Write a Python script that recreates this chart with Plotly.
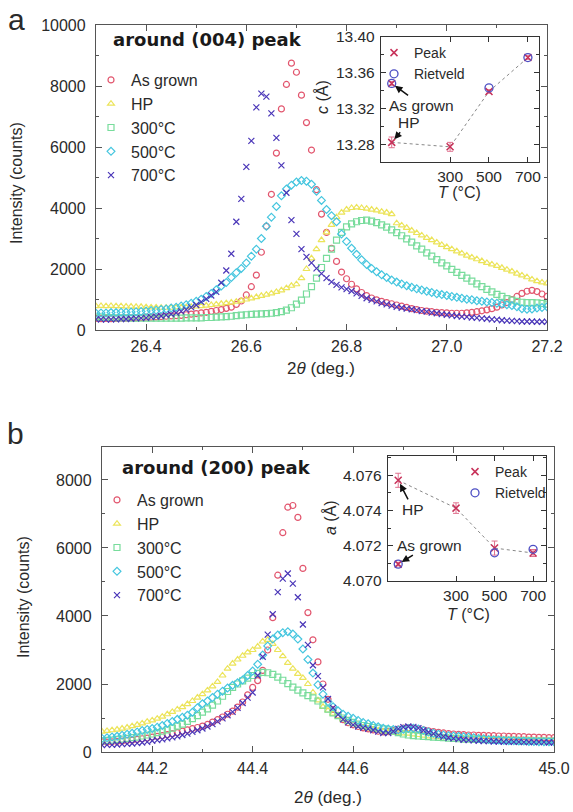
import plotly.graph_objects as go

W, H = 573, 812

# ---------------- data ----------------
SERIES = ["As grown", "HP", "300°C", "500°C", "700°C"]

# scan grids (2theta, deg.)
tth_a = [round(26.30 + 0.01 * i, 2) for i in range(91)]
tth_b = [round(44.10 + 0.01 * i, 2) for i in range(91)]

# (a) around (004) peak, 26.30 ... 27.20
asgrown_a = [380, 370, 380, 370, 380, 390, 390, 400, 400, 410,
             420, 420, 430, 440, 450, 460, 470, 480, 500, 520,
             540, 560, 580, 610, 640, 670, 710, 750, 840, 950,
             1150, 1420, 1800, 2550, 3400, 4450, 5800, 7250, 8050, 8750,
             8450, 7700, 6800, 5900, 4600, 3800, 3200, 2680, 2250, 1900,
             1680, 1500, 1350, 1230, 1130, 1050, 990, 940, 900, 860,
             820, 780, 740, 700, 670, 640, 620, 600, 580, 570,
             560, 550, 550, 550, 560, 580, 600, 630, 660, 700,
             750, 820, 900, 1000, 1100, 1200, 1270, 1300, 1260, 1180,
             1100]
hp_a = [780, 790, 780, 790, 780, 780, 770, 770, 760, 760,
        750, 740, 740, 730, 730, 730, 740, 740, 750, 760,
        770, 780, 800, 820, 840, 860, 880, 900, 930, 960,
        1000, 1040, 1080, 1120, 1160, 1200, 1250, 1300, 1370, 1450,
        1500, 1700, 2000, 2350, 2650, 2950, 3200, 3450, 3700, 3850,
        3950, 4000, 4020, 4000, 3980, 3950, 3920, 3880, 3850, 3800,
        3500, 3430, 3350, 3260, 3180, 3100, 3020, 2950, 2870, 2790,
        2720, 2650, 2580, 2510, 2440, 2380, 2320, 2260, 2200, 2150,
        2100, 2040, 1980, 1920, 1850, 1790, 1730, 1660, 1600, 1560,
        1530]
t300_a = [420, 420, 410, 410, 400, 400, 400, 390, 390, 390,
          390, 390, 390, 390, 390, 390, 390, 390, 400, 400,
          400, 400, 410, 410, 420, 430, 440, 450, 470, 490,
          500, 510, 520, 530, 540, 550, 570, 600, 650, 730,
          850, 980, 1180, 1420, 1700, 2050, 2350, 2650, 2950, 3200,
          3380, 3480, 3550, 3590, 3600, 3570, 3520, 3450, 3370, 3280,
          3190, 3090, 2990, 2880, 2760, 2650, 2530, 2420, 2310, 2200,
          2100, 1990, 1890, 1790, 1700, 1600, 1510, 1420, 1330, 1250,
          1170, 1100, 1030, 980, 940, 910, 900, 900, 890, 870,
          850]
t500_a = [550, 560, 560, 570, 570, 580, 580, 590, 600, 610,
          620, 640, 650, 670, 690, 720, 750, 790, 830, 880,
          940, 1010, 1100, 1200, 1320, 1440, 1560, 1720, 1880, 2020,
          2200, 2420, 2650, 3000, 3400, 3700, 4050, 4400, 4620, 4750,
          4850, 4900, 4880, 4780, 4550, 4250, 3950, 3750, 3550, 3150,
          2900, 2680, 2480, 2300, 2150, 2020, 1910, 1810, 1720, 1640,
          1570, 1510, 1450, 1400, 1350, 1310, 1270, 1230, 1190, 1160,
          1130, 1100, 1070, 1040, 1010, 990, 960, 940, 920, 900,
          880, 860, 830, 800, 760, 700, 680, 690, 720, 740,
          760]
t700_a = [350, 350, 340, 350, 350, 360, 360, 370, 380, 390,
          400, 420, 440, 460, 490, 520, 560, 610, 670, 740,
          820, 920, 1020, 1130, 1250, 1550, 1950, 2500, 3550, 4300,
          5350, 6200, 7300, 7750, 7650, 7100, 6300, 5400, 4500, 3600,
          3150, 2650, 2400, 2200, 2020, 1850, 1700, 1580, 1480, 1400,
          1340, 1280, 1200, 1120, 1040, 990, 940, 880, 840, 800,
          760, 730, 700, 680, 650, 620, 600, 570, 550, 520,
          500, 480, 460, 440, 430, 410, 400, 380, 370, 350,
          340, 320, 310, 300, 290, 280, 280, 280, 270, 270,
          270]

# (b) around (200) peak, 44.10 ... 45.00
asgrown_b = [300, 290, 300, 310, 320, 340, 350, 370, 390, 410,
             440, 460, 480, 510, 540, 570, 610, 650, 690, 720,
             760, 810, 880, 950, 1030, 1110, 1200, 1320, 1470, 1680,
             1900, 2100, 2400, 3000, 3950, 5200, 6450, 7200, 7250, 6900,
             5400, 4100, 3300, 2650, 2000, 1550, 1250, 1080, 950, 860,
             800, 750, 710, 680, 650, 610, 590, 600, 630, 670,
             700, 710, 700, 680, 650, 620, 600, 580, 560, 540,
             530, 520, 510, 500, 500, 490, 490, 480, 480, 470,
             470, 460, 460, 450, 450, 440, 440, 430, 430, 420,
             420]
hp_b = [600, 620, 640, 660, 690, 720, 760, 800, 840, 890,
        930, 980, 1040, 1110, 1180, 1250, 1320, 1410, 1500, 1600,
        1700, 1810, 1930, 2060, 2250, 2450, 2600, 2720, 2830, 2930,
        3000, 3100, 3250, 3300, 3180, 3000, 2820, 2620, 2450, 2300,
        2180, 2000, 1750, 1520, 1330, 1220, 1130, 1040, 960, 880,
        820, 770, 720, 690, 660, 630, 600, 580, 570, 560,
        550, 540, 520, 500, 480, 460, 450, 440, 430, 420,
        410, 410, 400, 400, 390, 390, 380, 380, 370, 370,
        360, 360, 360, 350, 350, 350, 340, 340, 340, 330,
        330]
t300_b = [330, 340, 350, 370, 380, 400, 420, 440, 470, 500,
          530, 570, 610, 650, 700, 760, 820, 900, 980, 1070,
          1170, 1270, 1380, 1500, 1640, 1780, 1900, 2000, 2090, 2170,
          2250, 2310, 2340, 2330, 2280, 2200, 2110, 2010, 1910, 1820,
          1740, 1660, 1590, 1500, 1380, 1260, 1150, 1070, 1000, 930,
          870, 820, 780, 750, 720, 700, 680, 650, 610, 570,
          530, 500, 480, 470, 460, 450, 440, 430, 420, 410,
          400, 390, 380, 380, 370, 370, 360, 360, 350, 350,
          340, 340, 340, 330, 330, 330, 320, 320, 320, 310,
          310]
t500_b = [400, 420, 440, 460, 490, 520, 550, 590, 630, 660,
          690, 730, 780, 840, 900, 960, 1020, 1080, 1170, 1300,
          1420, 1500, 1600, 1700, 1790, 1880, 1960, 2040, 2120, 2250,
          2380, 2580, 2850, 3120, 3320, 3440, 3510, 3540, 3470, 3320,
          3030, 2720, 2320, 1980, 1700, 1480, 1330, 1210, 1110, 1050,
          990, 930, 870, 830, 780, 740, 700, 680, 660, 650,
          670, 690, 700, 680, 630, 590, 550, 520, 500, 480,
          470, 460, 450, 440, 420, 400, 390, 370, 360, 350,
          340, 330, 330, 320, 320, 310, 310, 300, 300, 300,
          300]
t700_b = [200, 210, 210, 220, 230, 240, 250, 260, 280, 300,
          330, 350, 370, 400, 430, 460, 500, 540, 590, 640,
          690, 750, 820, 900, 990, 1080, 1180, 1300, 1440, 1600,
          1750, 2250, 2800, 3450, 4050, 4700, 5100, 5250, 4950, 4550,
          3750, 3150, 2550, 2230, 1900, 1560, 1300, 1100, 960, 870,
          800, 750, 710, 680, 640, 600, 560, 560, 610, 680,
          730, 750, 740, 700, 640, 580, 540, 490, 450, 420,
          400, 380, 360, 350, 340, 330, 320, 320, 310, 310,
          300, 300, 300, 300, 290, 290, 290, 290, 290, 280,
          280]

for arr in (asgrown_a, hp_a, t300_a, t500_a, t700_a,
            asgrown_b, hp_b, t300_b, t500_b, t700_b):
    assert len(arr) == 91, len(arr)

# insets: lattice constants vs T
inset_T = [0, 0, 300, 500, 700]          # As grown, HP, 300, 500, 700
peak_c = [13.348, 13.282, 13.277, 13.339, 13.377]
peak_c_err = [0.002, 0.006, 0.005, 0.002, 0.002]
riet_T = [0, 500, 700]
riet_c = [13.348, 13.343, 13.377]

peak_a = [4.07096, 4.07572, 4.07414, 4.07187, 4.07159]
peak_a_err = [0.0001, 0.0004, 0.0003, 0.0004, 0.0002]
riet_a = [4.07096, 4.0716, 4.0718]

# ---------------- style ----------------
FONT = "Liberation Sans"
TXT = "#2a2a2a"
AX = "#555555"
COLORS = ["#e2566e", "#ece45a", "#78dc9c", "#45c6df", "#4a36b8"]
SYMBOLS = ["circle-open", "triangle-up-open", "square-open", "diamond-open", "x-thin"]
PEAK_COL = "#c8325a"
RIET_COL = "#4d4fc4"


def px(x):
    return x / W


def py(y):
    return 1 - y / H


fig = go.Figure()

panels = [
    (tth_a, [asgrown_a, hp_a, t300_a, t500_a, t700_a], "x", "y", "legend"),
    (tth_b, [asgrown_b, hp_b, t300_b, t500_b, t700_b], "x2", "y2", "legend2"),
]
for tth, ys, xa, ya, lg in panels:
    for name, yv, col, sym in zip(SERIES, ys, COLORS, SYMBOLS):
        fig.add_trace(go.Scatter(
            x=tth, y=yv, mode="markers", name=name,
            xaxis=xa, yaxis=ya, legend=lg,
            marker=dict(symbol=sym, size=6, color=col,
                        line=dict(width=1.2, color=col)),
        ))

# inset traces
insets = [
    (peak_c, peak_c_err, riet_c, "x3", "y3", "legend3"),
    (peak_a, peak_a_err, riet_a, "x4", "y4", "legend4"),
]
for pk, pe, rv, xa, ya, lg in insets:
    fig.add_trace(go.Scatter(
        x=inset_T[1:], y=pk[1:], mode="lines", showlegend=False,
        xaxis=xa, yaxis=ya, line=dict(color="#888888", width=1, dash="dot"),
    ))
    fig.add_trace(go.Scatter(
        x=inset_T, y=pk, mode="markers", name="Peak",
        xaxis=xa, yaxis=ya, legend=lg,
        marker=dict(symbol="x-thin", size=7, color=PEAK_COL,
                    line=dict(width=1.5, color=PEAK_COL)),
        error_y=dict(type="data", array=pe, color="#e0708e", thickness=1, width=3),
    ))
    fig.add_trace(go.Scatter(
        x=riet_T, y=rv, mode="markers", name="Rietveld",
        xaxis=xa, yaxis=ya, legend=lg,
        marker=dict(symbol="circle-open", size=8, color=RIET_COL,
                    line=dict(width=1.3, color=RIET_COL)),
    ))


def main_axis(domain, rng, dtick, minor, anchor, tick0=None, fmt=None, standoff=2):
    d = dict(domain=domain, range=rng, dtick=dtick, anchor=anchor, automargin=False,
             ticks="inside", ticklen=6,
             tickwidth=1, tickcolor=AX, showline=True, linecolor=AX, linewidth=1.3,
             mirror="ticks", showgrid=False, zeroline=False,
             minor=dict(ticks="inside", dtick=minor, ticklen=3, tickcolor=AX, showgrid=False),
             tickfont=dict(family=FONT, size=16, color=TXT), ticklabelstandoff=standoff)
    if tick0 is not None:
        d["tick0"] = tick0
    if fmt is not None:
        d["tickformat"] = fmt
    return d


def inset_axis(domain, rng, anchor, tickvals=None, dtick=None, fmt=None, minor=None, standoff=0):
    d = dict(domain=domain, range=rng, anchor=anchor, automargin=False,
             ticks="inside", ticklen=5, tickwidth=1,
             tickcolor="#333333", showline=True, linecolor="#333333", linewidth=1.4,
             mirror="ticks", showgrid=False, zeroline=False,
             tickfont=dict(family=FONT, size=15.5, color=TXT), ticklabelstandoff=standoff)
    if tickvals is not None:
        d["tickvals"] = tickvals
    if dtick is not None:
        d["dtick"] = dtick
    if fmt is not None:
        d["tickformat"] = fmt
    if minor is not None:
        d["minor"] = dict(ticks="inside", dtick=minor, ticklen=3, tickcolor="#333333")
    return d


leg_common = dict(bgcolor="rgba(0,0,0,0)", borderwidth=0, itemwidth=30,
                  xanchor="left", yanchor="top", tracegroupgap=0,
                  font=dict(family=FONT, size=16, color=TXT))

fig.update_layout(
    width=W, height=H, margin=dict(l=0, r=0, t=0, b=0, pad=0, autoexpand=False),
    paper_bgcolor="white", plot_bgcolor="white",
    xaxis=main_axis([px(96), px(547)], [26.3, 27.2], 0.2, 0.1, "y", tick0=26.4, fmt=".1f"),
    yaxis=main_axis([py(330), py(25)], [0, 10000], 2000, 1000, "x", fmt="d", standoff=6),
    xaxis2=main_axis([px(102), px(554)], [44.1, 45.0], 0.2, 0.1, "y2", tick0=44.2, fmt=".1f"),
    yaxis2=main_axis([py(752), py(447)], [0, 8970], 2000, 1000, "x2", fmt="d", standoff=6),
    xaxis3=inset_axis([px(381), px(539)], [-55, 757], "y3", tickvals=[300, 500, 700]),
    yaxis3=inset_axis([py(162), py(37)], [13.26, 13.40], "x3", dtick=0.04, fmt=".2f", minor=0.02, standoff=2),
    xaxis4=inset_axis([px(388), px(546)], [-53, 767], "y4", tickvals=[300, 500, 700]),
    yaxis4=inset_axis([py(581), py(456)], [4.070, 4.0771], "x4", dtick=0.002, fmt=".3f", minor=0.001, standoff=2),
    legend=dict(leg_common, x=px(91), y=py(63)),
    legend2=dict(leg_common, x=px(97), y=py(483)),
    legend3=dict(leg_common, x=px(374), y=py(37), font=dict(family=FONT, size=14, color=TXT)),
    legend4=dict(leg_common, x=px(455), y=py(456), font=dict(family=FONT, size=14, color=TXT)),
)

ann = []


def text(t, x, y, size=16, angle=0, family=FONT, color=TXT, xanchor="center"):
    ann.append(dict(text=t, x=px(x), y=py(y), xref="paper", yref="paper",
                    showarrow=False, textangle=angle, xanchor=xanchor, yanchor="middle",
                    font=dict(family=family, size=size, color=color)))


text("a", 16, 19, size=30)
text("b", 15, 434, size=30)
text("<b>around (004) peak</b>", 207, 39, size=18, family="DejaVu Sans", color="#1a1a1a")
text("<b>around (200) peak</b>", 216, 468, size=18, family="DejaVu Sans", color="#1a1a1a")
text("Intensity (counts)", 16, 183, angle=-90)
text("Intensity (counts)", 23, 597, angle=-90)
text("2<i>θ</i> (deg.)", 321, 368, size=17)
text("2<i>θ</i> (deg.)", 328, 797, size=17)
text("<i>c</i> (Å)", 322, 97, angle=-90)
text("<i>a</i> (Å)", 330, 518, angle=-90)
text("<i>T</i> (°C)", 459, 193)
text("<i>T</i> (°C)", 468, 614)

# arrows pointing at As grown / HP points in insets
arrows = [
    ("As grown", 0, peak_c[0], "x3", "y3", 30, 22),
    ("HP", 0, peak_c[1], "x3", "y3", 17, -20),
    ("HP", 0, peak_a[1], "x4", "y4", 15, 29),
    ("As grown", 0, peak_a[0], "x4", "y4", 31, -19),
]
for t, x, y, xr, yr, ax, ay in arrows:
    ann.append(dict(text=t, x=x, y=y, xref=xr, yref=yr, showarrow=True,
                    ax=ax, ay=ay, arrowhead=2, arrowsize=1, arrowwidth=1.5,
                    arrowcolor="#111111", standoff=4,
                    font=dict(family=FONT, size=15.5, color=TXT)))

fig.update_layout(annotations=ann)
fig.write_html("out.html")
